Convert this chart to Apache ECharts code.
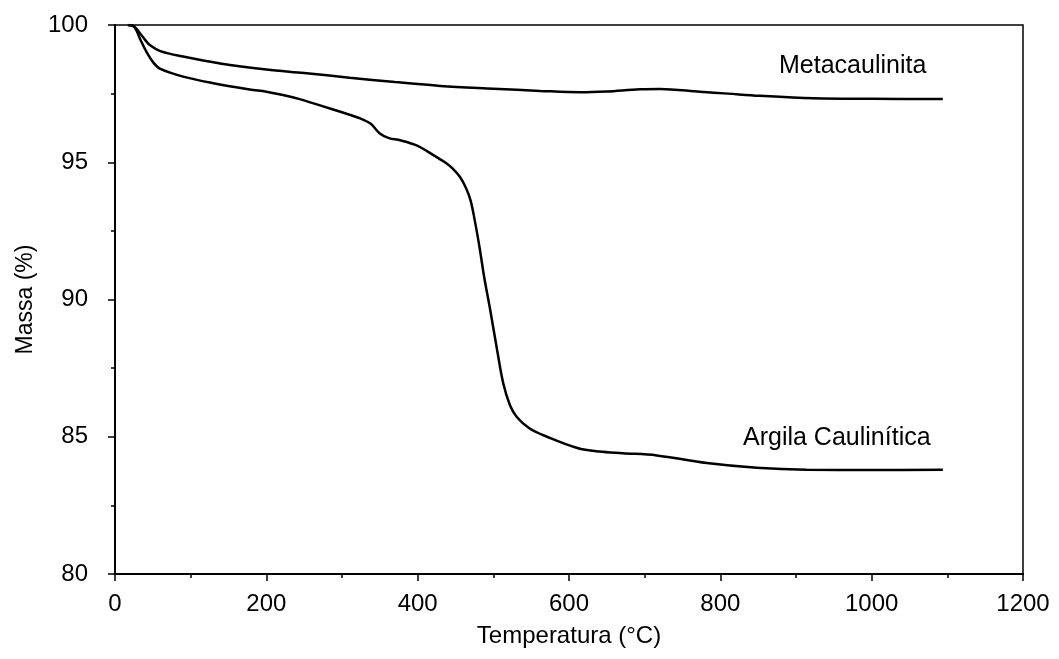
<!DOCTYPE html>
<html>
<head>
<meta charset="utf-8">
<script src="https://cdn.jsdelivr.net/npm/echarts@6/dist/echarts.min.js"></script>
<style>
    html, body { margin: 0; padding: 0; background: #fff; }
    #chart { width: 1059px; height: 659px; }
</style>
</head>
<body>
<div id="chart"></div>
<script>
// Metacaulinita curve (temperature °C, mass %)
const metaTemp = [17, 25, 33, 40, 46, 60, 90, 139, 200, 250, 310, 370, 430, 500, 562, 615, 650, 694, 720, 773, 810, 852, 923, 1000, 1094]
const metaMass = [100, 99.95, 99.7, 99.45, 99.27, 99.05, 98.85, 98.6, 98.38, 98.25, 98.08, 97.92, 97.78, 97.68, 97.6, 97.55, 97.58, 97.66, 97.67, 97.57, 97.5, 97.42, 97.33, 97.31, 97.3]

// Argila Caulinítica curve
const argTemp = [17, 25, 33, 42, 51, 60, 90, 130, 178, 200, 222, 244, 270, 300, 324, 338, 350, 362, 377, 400, 416, 436, 446, 456, 464, 470, 476, 482, 488, 496, 505, 513, 522, 531, 548, 571, 611, 640, 671, 716, 782, 848, 914, 1002, 1094]
const argMass = [100, 99.95, 99.5, 99.0, 98.62, 98.4, 98.12, 97.88, 97.65, 97.57, 97.45, 97.3, 97.08, 96.82, 96.6, 96.4, 96.05, 95.88, 95.8, 95.6, 95.34, 95.0, 94.78, 94.46, 94.05, 93.6, 92.8, 91.86, 90.8, 89.6, 88.16, 86.96, 86.15, 85.72, 85.3, 85.0, 84.59, 84.46, 84.4, 84.32, 84.04, 83.87, 83.8, 83.79, 83.8]

const seriesNames = ['Metacaulinita', 'Argila Caulinítica']

const zip = (xs, ys) => xs.map((x, i) => [x, ys[i]])

const font = '"Liberation Sans", Arial, sans-serif'

const lineSeries = (name, data) => ({
    name: name,
    type: 'line',
    smooth: 0.35,
    symbol: 'none',
    lineStyle: { color: '#000', width: 2.5 },
    data: data
})

let option = {
    animation: false,
    backgroundColor: '#fff',
    grid: {
        left: 115,
        right: 36,
        top: 25,
        bottom: 85,
        show: true,
        borderColor: '#000',
        borderWidth: 1.5
    },
    xAxis: {
        type: 'value',
        min: 0,
        max: 1200,
        interval: 200,
        name: 'Temperatura (°C)',
        nameLocation: 'middle',
        nameGap: 50,
        nameTextStyle: { color: '#000', fontSize: 24, fontFamily: font },
        axisLine: { show: true, lineStyle: { color: '#000', width: 2 } },
        axisTick: { show: true, inside: false, length: 7, lineStyle: { color: '#000', width: 1.5 } },
        minorTick: { show: true, splitNumber: 2, length: 4, lineStyle: { color: '#000', width: 1.5 } },
        splitLine: { show: false },
        axisLabel: {
            color: '#000', fontSize: 24, fontFamily: font, margin: 18,
            formatter: v => String(v)
        }
    },
    yAxis: {
        type: 'value',
        min: 80,
        max: 100,
        interval: 5,
        name: 'Massa (%)',
        nameLocation: 'middle',
        nameGap: 77,
        nameTextStyle: { color: '#000', fontSize: 23, fontFamily: font },
        axisLine: { show: true, lineStyle: { color: '#000', width: 2 } },
        axisTick: { show: true, inside: false, length: 7, lineStyle: { color: '#000', width: 1.5 } },
        minorTick: { show: true, splitNumber: 2, length: 4, lineStyle: { color: '#000', width: 1.5 } },
        splitLine: { show: false },
        axisLabel: {
            color: '#000', fontSize: 24, fontFamily: font, margin: 27,
            formatter: v => String(v)
        }
    },
    graphic: [
        {
            type: 'text',
            left: 779,
            top: 54,
            style: { text: seriesNames[0], fill: '#000', font: '25px ' + font }
        },
        {
            type: 'text',
            left: 743,
            top: 426,
            style: { text: seriesNames[1], fill: '#000', font: '25px ' + font }
        }
    ],
    series: [
        lineSeries(seriesNames[0], zip(metaTemp, metaMass)),
        lineSeries(seriesNames[1], zip(argTemp, argMass))
    ]
}

const EC = echarts.init(document.getElementById('chart'))
EC.setOption(option)
</script>
</body>
</html>
